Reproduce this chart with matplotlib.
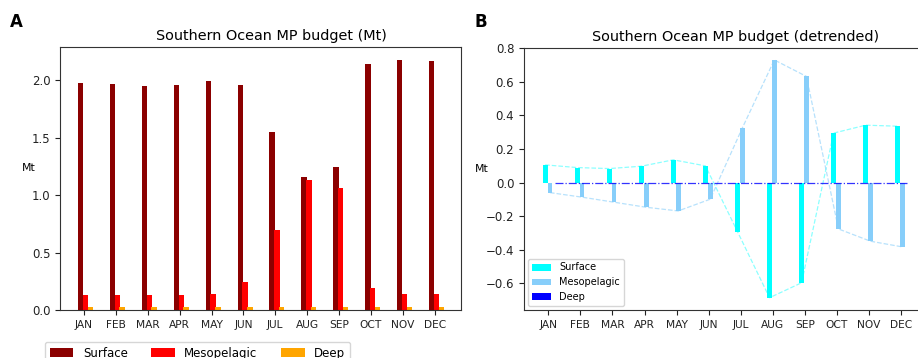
import matplotlib
matplotlib.use("Agg")
import matplotlib.pyplot as plt
import numpy as np

months = ["JAN", "FEB", "MAR", "APR", "MAY", "JUN",
          "JUL", "AUG", "SEP", "OCT", "NOV", "DEC"]

# Monthly microplastic budget (Mt)
surface = [1.977, 1.962, 1.948, 1.953, 1.994, 1.953,
           1.549, 1.157, 1.244, 2.137, 2.174, 2.166]
mesopelagic = [0.134, 0.134, 0.134, 0.134, 0.140, 0.241,
               0.700, 1.134, 1.061, 0.189, 0.140, 0.140]
deep = [0.022, 0.022, 0.022, 0.022, 0.022, 0.022,
        0.022, 0.022, 0.022, 0.022, 0.022, 0.022]

# Detrended budget (Mt)
surface_dt = [0.105, 0.089, 0.083, 0.097, 0.135, 0.099,
              -0.292, -0.685, -0.596, 0.294, 0.341, 0.335]
mesopelagic_dt = [-0.060, -0.087, -0.117, -0.147, -0.169, -0.099,
                  0.324, 0.729, 0.631, -0.276, -0.349, -0.383]
deep_dt = [0.0, 0.0, 0.0, 0.0, 0.0, 0.0,
           0.0, 0.0, 0.0, 0.0, 0.0, 0.0]

W, H = 918, 358
fig = plt.figure(figsize=(W / 100, H / 100), dpi=100)

ax1 = fig.add_axes([60 / W, 1 - 310 / H, 401 / W, 263 / H])
ax2 = fig.add_axes([524 / W, 1 - 310 / H, 401 / W, 262 / H])

x = np.arange(len(months))
bw = 0.17
offs = [-0.1, 0.05, 0.2]

# Panel A: raw budget
b1 = ax1.bar(x + offs[0], surface, bw, color="darkred", label="Surface")
b2 = ax1.bar(x + offs[1], mesopelagic, bw, color="red", label="Mesopelagic")
b3 = ax1.bar(x + offs[2], deep, bw, color="orange", label="Deep")
ax1.set_xlim(-0.75, 11.82)
ax1.set_ylim(0, 2.287)
ax1.set_yticks([0.0, 0.5, 1.0, 1.5, 2.0])
ax1.set_xticks(x)
ax1.set_xticklabels(months)
ax1.set_title("Southern Ocean MP budget (Mt)", fontsize=10.4, x=0.527, pad=5)
ax1.set_ylabel("Mt", rotation=0, fontsize=7.8)
ax1.yaxis.set_label_coords(-0.079, 0.52)
fig.legend(handles=[b1, b2, b3], loc="upper left", ncol=3,
           bbox_to_anchor=(45 / W, 1 - 342 / H), bbox_transform=fig.transFigure,
           borderaxespad=0, fontsize=8.5, columnspacing=2.0)

# Panel B: detrended budget
bw2 = 0.15
s1 = ax2.bar(x + offs[0], surface_dt, bw2, color="cyan", label="Surface")
s2 = ax2.bar(x + offs[1], mesopelagic_dt, bw2, color="lightskyblue", label="Mesopelagic")
s3 = ax2.bar(x + offs[2], deep_dt, bw2, color="blue", label="Deep")
ax2.plot(x + offs[0], surface_dt, "--", color="cyan", alpha=0.45, lw=0.9)
ax2.plot(x + offs[1], mesopelagic_dt, "--", color="lightskyblue", alpha=0.6, lw=0.9)
ax2.plot(x + offs[2], deep_dt, "-.", color="blue", alpha=0.8, lw=0.9)
ax2.set_xlim(-0.76, 11.75)
ax2.set_ylim(-0.758, 0.80)
ax2.set_yticks([-0.6, -0.4, -0.2, 0.0, 0.2, 0.4, 0.6, 0.8])
ax2.set_xticks(x)
ax2.set_xticklabels(months)
ax2.set_title("Southern Ocean MP budget (detrended)", fontsize=10.4, x=0.527, pad=5)
ax2.set_ylabel("Mt", rotation=0, fontsize=7.8)
ax2.yaxis.set_label_coords(-0.105, 0.52)
ax2.legend(handles=[s1, s2, s3], loc="lower left", fontsize=7,
           borderaxespad=0.4)

for ax in (ax1, ax2):
    ax.tick_params(axis="x", labelsize=7.7, colors="#222222")
    ax.tick_params(axis="y", labelsize=8.5, colors="#222222")
    for sp in ax.spines.values():
        sp.set_color("#333333")

fig.text(10 / W, 1 - 22 / H, "A", fontsize=12, fontweight="bold", va="center")
fig.text(475 / W, 1 - 22 / H, "B", fontsize=12, fontweight="bold", va="center")

fig.savefig("out.png", dpi=100)
